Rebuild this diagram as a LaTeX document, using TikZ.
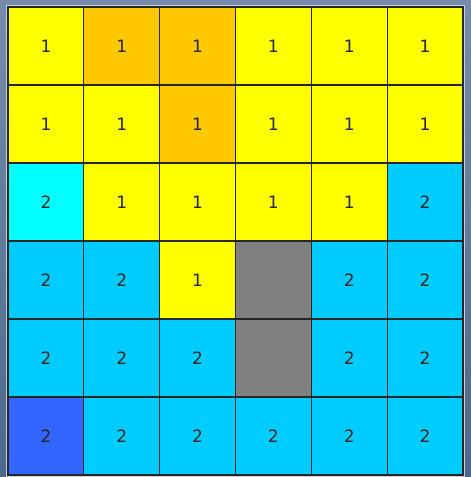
\documentclass[tikz,border=0pt]{standalone}
\usepackage{fontspec}
\setmainfont{DejaVu Sans}
\definecolor{cY}{RGB}{255,255,0}
\definecolor{cO}{RGB}{255,200,0}
\definecolor{cC}{RGB}{0,255,255}
\definecolor{cL}{RGB}{0,204,255}
\definecolor{cD}{RGB}{51,102,255}
\definecolor{cG}{RGB}{128,128,128}
\definecolor{bgtop}{RGB}{118,140,170}
\definecolor{bgbot}{RGB}{76,104,140}
\definecolor{framec}{RGB}{200,208,216}
\tikzset{
  cell/.style={draw=black!85, line width=1.2pt, minimum width=75.83pt, minimum height=78pt,
    inner sep=0pt, outer sep=0pt, font=\fontsize{17}{17}\selectfont, text=black!85}
}
\begin{document}
\begin{tikzpicture}[x=1pt,y=1pt]
\useasboundingbox (0,0) rectangle (471,477);
\shade[top color=bgtop, bottom color=bgbot] (0,0) rectangle (471,477);
\draw[framec, line width=2pt] (7,1) rectangle (464,471);
\foreach \r/\lst in {1/{cY/1,cO/1,cO/1,cY/1,cY/1,cY/1},
                     2/{cY/1,cY/1,cO/1,cY/1,cY/1,cY/1},
                     3/{cC/2,cY/1,cY/1,cY/1,cY/1,cL/2},
                     4/{cL/2,cL/2,cY/1,cG/{},cL/2,cL/2},
                     5/{cL/2,cL/2,cL/2,cG/{},cL/2,cL/2},
                     6/{cD/2,cL/2,cL/2,cL/2,cL/2,cL/2}}{
  \foreach \col/\t [count=\j] in \lst {
    \node[cell, fill=\col] (c\r-\j) at ({8+75.83*(\j-0.5)}, {477-7-78*(\r-0.5)}) {\t};
  }
}
\end{tikzpicture}
\end{document}
